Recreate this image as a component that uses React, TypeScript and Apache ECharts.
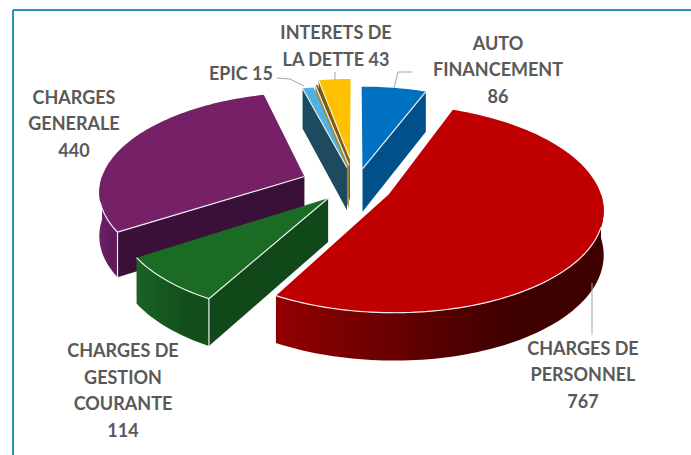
import React, { useEffect, useRef } from "react";
import * as echarts from "echarts";

// Data (clockwise from twelve o'clock)
const categories = ["AUTO\nFINANCEMENT", "CHARGES DE\nPERSONNEL", "CHARGES DE\nGESTION\nCOURANTE", "CHARGES\nGENERALE", "EPIC", "", "INTERETS DE\nLA DETTE"];
const values = [86, 767, 114, 440, 15, 3, 43];
const valueSeparators = ["\n", "\n", "\n", "\n", " ", "", " "];

// Styles and layout
const topColors = ["#0070c0", "#c00000", "#1b6b25", "#762067", "#4fb2e3", "#6b5214", "#ffc000"];
const wallColors = ["#00508a", "#400000", "#10481a", "#3a0f38", "#1d4a5e", "#a08a40", "#7f6000"];
const rimLeftColors = ["#00508a", "#930000", "#1a6323", "#6f2068", "#1d4a5e", "#a08a40", "#7f6000"];
const rimRightColors = ["#00508a", "#3f0000", "#124f1b", "#5f1b5c", "#1d4a5e", "#a08a40", "#7f6000"];
const explodes = [42, 36, 40, 56, 50, 50, 69];
const radii = [205, 210, 205, 205, 205, 205, 205];
const nudgeX = [-1, 0, 0, 0, 2, 2, 0];
const nudgeY = [0, -1, -4, -2, 2, 0, 2];
const drawRanks = [3, 6, 5, 4, 2, 1, 0];
const labelCenters = [[498, 69], [583, 374], [123, 390], [74, 123], [241, 73], null, [336, 45.5]];
const leaderLines = [
  [[394, 88], [398, 72], [412, 72]],
  [[592, 283], [592, 335]],
  [[277, 78], [290, 79], [304, 86]],
  [[335, 72], [335, 80]],
];

const CX = 356, CY = 188, K = 0.477, D = 1550;
const TOTAL = values.reduce((a, b) => a + b, 0);
const rad = (d: number) => (d * Math.PI) / 180;

function project(u: number, v: number): [number, number] {
  const s = D / (D - v);
  return [CX + u * s, CY + v * K * s];
}
const depthAt = (y: number) => 40 + 0.035 * (y - 88);
const drop = (p: [number, number]): [number, number] => [p[0], p[1] + depthAt(p[1])];

function renderItem(params: any, api: any) {
  const i = params.dataIndex;
  const val = api.value(0);
  let before = 0;
  for (let k = 0; k < i; k++) before += values[k];
  const a0 = (before / TOTAL) * 360;
  const a1 = ((before + val) / TOTAL) * 360;
  const mid = (a0 + a1) / 2;
  const ou = Math.sin(rad(mid)) * explodes[i];
  const ov = -Math.cos(rad(mid)) * explodes[i];
  const R = radii[i];
  const place = (p: [number, number]): [number, number] => [p[0] + nudgeX[i], p[1] + nudgeY[i]];
  const at = (deg: number) => place(project(ou + R * Math.sin(rad(deg)), ov - R * Math.cos(rad(deg))));
  const apex = place(project(ou, ov));
  const arc = (from: number, to: number) => {
    const out: [number, number][] = [];
    const n = Math.max(2, Math.ceil((to - from) / 1.5));
    for (let j = 0; j <= n; j++) out.push(at(from + ((to - from) * j) / n));
    return out;
  };

  const rank = drawRanks[i] * 20;
  const children: any[] = [];
  const push = (el: any) => children.push({ ...el, z2: rank + children.length });
  const line = (points: [number, number][]) =>
    push({ type: "polyline", shape: { points }, style: { stroke: "#eeeeee", lineWidth: 1.2, fill: "none" } });

  const wallFor = (deg: number) => {
    const rim = at(deg);
    push({
      type: "polygon",
      shape: { points: [apex, rim, drop(rim), drop(apex)] },
      style: { fill: wallColors[i] },
    });
  };
  // cut faces that look toward the viewer
  const startVisible = Math.cos(rad(a0 - 90)) < -0.01;
  const endVisible = Math.cos(rad(a1 + 90)) < -0.01;
  if (startVisible) wallFor(a0);
  if (endVisible) wallFor(a1);

  // outer curved face on the near half
  const wStart = Math.max(a0, 90);
  const wEnd = Math.min(a1, 270);
  if (wEnd > wStart) {
    const rim = arc(wStart, wEnd);
    push({
      type: "polygon",
      shape: { points: [...rim, ...rim.slice().reverse().map(drop)] },
      style: {
        fill: new echarts.graphic.LinearGradient(0, 0, 1, 0, [
          { offset: 0, color: rimLeftColors[i] },
          { offset: 0.7, color: rimRightColors[i] },
          { offset: 1, color: rimRightColors[i] },
        ]),
      },
    });
  }

  // top face
  push({
    type: "polygon",
    shape: { points: [apex, ...arc(a0, a1)] },
    style: { fill: topColors[i] },
  });

  // light edges
  if (startVisible) {
    line([apex, at(a0)]);
    if (a0 >= 90 && a0 <= 270) line([at(a0), drop(at(a0))]);
  }
  if (endVisible) line([apex, at(a1)]);
  const eStart = Math.max(a0, 108);
  const eEnd = Math.min(a1, 255);
  if (eEnd > eStart) line(arc(eStart, eEnd));

  return { type: "group", children };
}

export default function App() {
  const ref = useRef<HTMLDivElement>(null);
  useEffect(() => {
    document.body.style.margin = "0";
    const chart = echarts.init(ref.current!, undefined, { renderer: "svg" });
    const labels = categories
      .map((name, i) => ({ name, i }))
      .filter((d) => d.name && labelCenters[d.i])
      .map(({ name, i }) => ({
        type: "text",
        x: labelCenters[i]![0],
        y: labelCenters[i]![1],
        z: 10,
        style: {
          text: `${name}${valueSeparators[i]}${values[i]}`,
          fontFamily: "Lato",
          fontWeight: "bold",
          fontSize: 18,
          lineHeight: 26.5,
          fill: "#595959",
          align: "center",
          verticalAlign: "middle",
        },
      }));
    const leaders = leaderLines.map((points) => ({
      type: "polyline",
      z: 9,
      shape: { points },
      style: { stroke: "#a6a6a6", lineWidth: 1, fill: "none" },
    }));
    chart.setOption({
      animation: false,
      backgroundColor: "#ffffff",
      graphic: {
        elements: [
          { type: "line", shape: { x1: 13, y1: 10, x2: 691, y2: 10 }, style: { stroke: "#2e8fb8", lineWidth: 2 } },
          { type: "line", shape: { x1: 13, y1: 10, x2: 13, y2: 455 }, style: { stroke: "#2e8fb8", lineWidth: 2 } },
          ...leaders,
          ...labels,
        ],
      },
      series: [
        {
          type: "custom",
          coordinateSystem: "none",
          silent: true,
          clip: false,
          renderItem,
          data: values.map((v, i) => ({ name: categories[i], value: [v] })),
        },
      ],
    });
    return () => chart.dispose();
  }, []);
  return <div ref={ref} style={{ width: 691, height: 455 }} />;
}
